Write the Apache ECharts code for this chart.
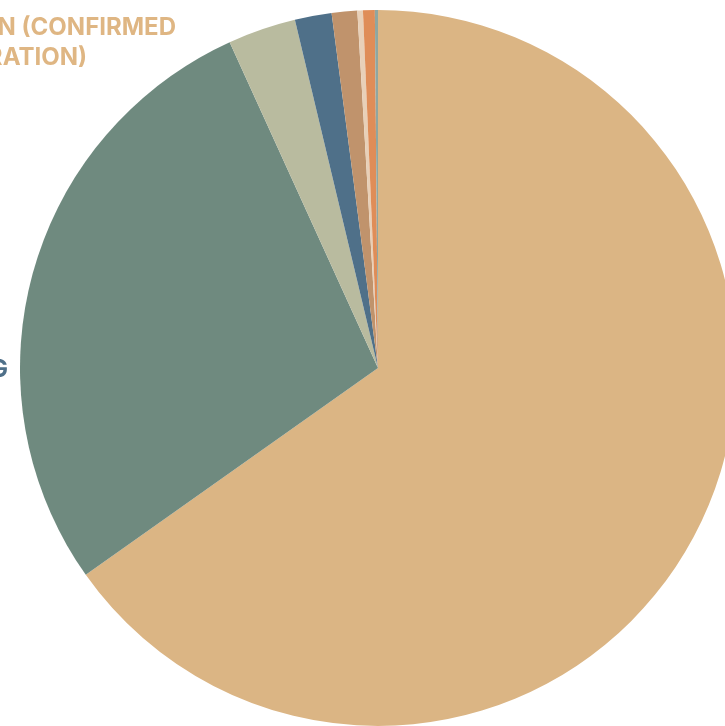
<!DOCTYPE html>
<html>
<head>
<meta charset="utf-8">
<style>
  html, body { margin: 0; padding: 0; background: #ffffff; }
  #chart { width: 725px; height: 726px; }
</style>
<script src="https://cdn.jsdelivr.net/npm/echarts@6/dist/echarts.min.js"></script>
</head>
<body>
<div id="chart"></div>
<script>
// Share of each category (percent), in clockwise order from 12 o'clock
const categories = ['A', 'B', 'C', 'D', 'E', 'F', 'G', 'H'];
const shares = [65.2, 28.0, 3.07, 1.66, 1.15, 0.25, 0.53, 0.14];
const sliceColors = ['#dbb584', '#6f8a7f', '#b9bb9f', '#4f7089', '#c0936c', '#e8d0b8', '#df8d58', '#8fa6a0'];

// Outside labels (partly running off the left edge)
const labelLines = [
  { text: 'DETENTION (CONFIRMED', color: '#dfb683', right: 176, y: 28 },
  { text: 'DURATION)', color: '#dfb683', right: 87, y: 58 },
  { text: 'PENDING', color: '#4f7089', right: 8, y: 370 }
];

const chart = echarts.init(document.getElementById('chart'), null, { renderer: 'canvas' });

chart.setOption({
  animation: false,
  backgroundColor: '#ffffff',
  series: [{
    type: 'pie',
    center: [378, 368],
    radius: [0, 358],
    startAngle: 90,
    clockwise: true,
    avoidLabelOverlap: false,
    label: { show: false },
    labelLine: { show: false },
    emphasis: { disabled: true },
    itemStyle: { borderWidth: 0 },
    data: categories.map((name, i) => ({
      name: name,
      value: shares[i],
      itemStyle: { color: sliceColors[i] }
    }))
  }],
  graphic: labelLines.map(l => ({
    type: 'text',
    x: l.right,
    y: l.y,
    style: {
      text: l.text,
      fill: l.color,
      font: 'bold 24px Inter',
      align: 'right',
      verticalAlign: 'middle'
    }
  }))
});
</script>
</body>
</html>
